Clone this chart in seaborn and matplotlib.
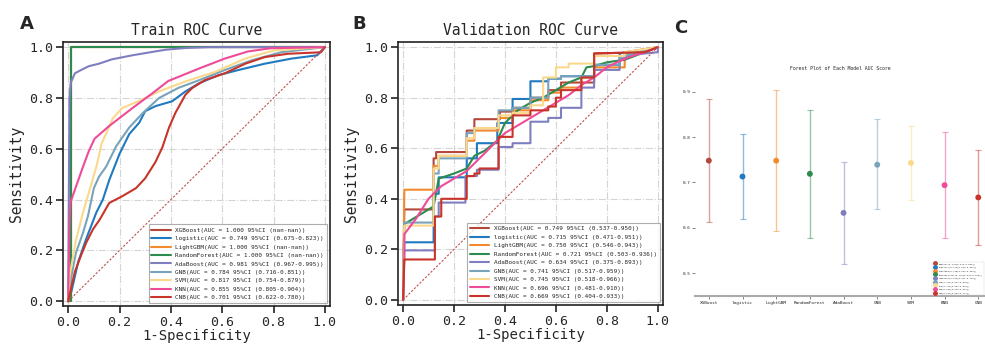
import numpy as np
import pandas as pd
import seaborn as sns
import matplotlib.pyplot as plt

models = ['XGBoost', 'logistic', 'LightGBM', 'RandomForest', 'AdaBoost', 'GNB', 'SVM', 'KNN', 'CNB']
colors = ['#b5473a', '#1f7ac0', '#f28a2e', '#2e8b4e', '#7f7fc0', '#78a3ba', '#fbd98c', '#ee4b98', '#c9342a']

# legend text for the two ROC panels
train_auc = ['1.000', '0.749', '1.000', '1.000', '0.981', '0.784', '0.817', '0.855', '0.701']
train_ci = ['nan-nan', '0.675-0.823', 'nan-nan', 'nan-nan', '0.967-0.995', '0.716-0.851', '0.754-0.879', '0.805-0.904', '0.622-0.780']
val_auc = ['0.749', '0.715', '0.750', '0.721', '0.634', '0.741', '0.745', '0.696', '0.669']
val_ci = ['0.537-0.950', '0.471-0.951', '0.546-0.943', '0.503-0.936', '0.375-0.893', '0.517-0.959', '0.518-0.966', '0.481-0.910', '0.404-0.933']

# forest plot (panel C)
forest_auc = [0.748, 0.713, 0.748, 0.719, 0.633, 0.739, 0.743, 0.694, 0.667]
forest_lo = [0.612, 0.619, 0.594, 0.578, 0.521, 0.641, 0.662, 0.578, 0.563]
forest_hi = [0.883, 0.807, 0.903, 0.860, 0.745, 0.839, 0.824, 0.812, 0.771]

# ---- train ROC curves (fpr, tpr) ----
tr_xgb = ([0, 0.01, 0.01, 1], [0, 0.0, 1, 1])
tr_logistic = ([0, 0.013, 0.039, 0.07, 0.11, 0.135, 0.16, 0.2, 0.238, 0.277, 0.30, 0.34, 0.405, 0.457, 0.51, 0.586, 0.663, 0.766, 0.87, 0.97, 1],
               [0, 0.04, 0.155, 0.245, 0.35, 0.40, 0.477, 0.58, 0.658, 0.703, 0.748, 0.768, 0.787, 0.826, 0.858, 0.89, 0.91, 0.935, 0.955, 0.968, 1])
tr_lgbm = ([0, 0.01, 0.01, 1], [0, 0.0, 1, 1])
tr_rf = ([0, 0.01, 0.01, 1], [0, 0.0, 1, 1])
tr_ada = ([0, 0.005, 0.01, 0.026, 0.05, 0.08, 0.12, 0.17, 0.25, 0.32, 0.38, 0.46, 0.55, 1],
          [0, 0.80, 0.86, 0.897, 0.91, 0.925, 0.935, 0.952, 0.968, 0.98, 0.99, 0.997, 1, 1])
tr_gnb = ([0, 0.013, 0.03, 0.058, 0.077, 0.10, 0.12, 0.148, 0.187, 0.238, 0.29, 0.354, 0.43, 0.51, 0.61, 0.714, 0.83, 1],
          [0, 0.10, 0.19, 0.27, 0.335, 0.445, 0.49, 0.53, 0.61, 0.684, 0.74, 0.80, 0.84, 0.87, 0.91, 0.948, 0.98, 1])
tr_svm = ([0, 0.006, 0.03, 0.058, 0.084, 0.11, 0.13, 0.148, 0.174, 0.21, 0.28, 0.354, 0.457, 0.573, 0.69, 0.80, 1],
          [0, 0.10, 0.24, 0.35, 0.44, 0.53, 0.62, 0.66, 0.72, 0.76, 0.79, 0.826, 0.865, 0.903, 0.955, 0.987, 1])
tr_knn = ([0, 0.005, 0.009, 0.03, 0.058, 0.08, 0.103, 0.16, 0.25, 0.33, 0.39, 0.51, 0.61, 0.70, 0.79, 1],
          [0, 0.30, 0.39, 0.45, 0.53, 0.59, 0.64, 0.69, 0.76, 0.82, 0.867, 0.916, 0.955, 0.983, 0.996, 1])
tr_cnb = ([0, 0.026, 0.05, 0.07, 0.097, 0.122, 0.16, 0.21, 0.264, 0.30, 0.34, 0.367, 0.393, 0.418, 0.457, 0.483, 0.534, 0.61, 0.69, 0.766, 0.856, 0.985, 1],
          [0, 0.116, 0.18, 0.23, 0.284, 0.32, 0.387, 0.413, 0.445, 0.484, 0.548, 0.606, 0.684, 0.742, 0.813, 0.839, 0.871, 0.897, 0.935, 0.961, 0.974, 0.98, 1])

# ---- validation ROC curves (fpr, tpr) ----
va_xgb = ([0, 0.005, 0.12, 0.12, 0.13, 0.13, 0.25, 0.25, 0.28, 0.28, 0.38, 0.38, 0.43, 0.43, 0.5, 0.5, 0.57, 0.57, 0.62, 0.62, 0.75, 0.75, 0.95, 1],
          [0, 0.358, 0.358, 0.56, 0.56, 0.585, 0.585, 0.67, 0.67, 0.715, 0.715, 0.745, 0.745, 0.76, 0.76, 0.80, 0.80, 0.83, 0.83, 0.86, 0.86, 0.975, 0.98, 1])
va_logistic = ([0, 0.005, 0.12, 0.12, 0.14, 0.14, 0.25, 0.25, 0.29, 0.29, 0.37, 0.37, 0.43, 0.43, 0.5, 0.5, 0.57, 0.57, 0.62, 0.62, 0.75, 0.75, 0.85, 0.85, 1],
               [0, 0.228, 0.228, 0.42, 0.42, 0.485, 0.485, 0.56, 0.56, 0.62, 0.62, 0.70, 0.70, 0.795, 0.795, 0.865, 0.865, 0.875, 0.875, 0.885, 0.885, 0.93, 0.93, 0.975, 1])
va_lgbm = ([0, 0.005, 0.12, 0.12, 0.14, 0.14, 0.25, 0.25, 0.28, 0.28, 0.375, 0.375, 0.43, 0.43, 0.5, 0.5, 0.57, 0.57, 0.62, 0.62, 0.7, 0.7, 0.75, 0.75, 0.87, 0.87, 1],
           [0, 0.436, 0.436, 0.53, 0.53, 0.57, 0.57, 0.63, 0.63, 0.67, 0.67, 0.72, 0.72, 0.75, 0.75, 0.79, 0.79, 0.82, 0.82, 0.84, 0.84, 0.88, 0.88, 0.92, 0.92, 0.98, 1])
va_rf = ([0, 0.005, 0.12, 0.14, 0.2, 0.25, 0.28, 0.32, 0.37, 0.4, 0.45, 0.5, 0.55, 0.6, 0.65, 0.7, 0.72, 0.75, 0.8, 0.87, 1],
         [0, 0.30, 0.37, 0.48, 0.50, 0.52, 0.57, 0.59, 0.63, 0.70, 0.75, 0.78, 0.80, 0.83, 0.86, 0.88, 0.92, 0.925, 0.94, 0.95, 1])
va_ada = ([0, 0.005, 0.125, 0.125, 0.14, 0.14, 0.245, 0.245, 0.29, 0.29, 0.375, 0.375, 0.43, 0.43, 0.5, 0.5, 0.57, 0.57, 0.62, 0.62, 0.7, 0.7, 0.75, 0.75, 0.85, 0.85, 0.9, 1, 1],
          [0, 0.196, 0.196, 0.33, 0.33, 0.385, 0.385, 0.49, 0.49, 0.515, 0.515, 0.605, 0.605, 0.62, 0.62, 0.705, 0.705, 0.72, 0.72, 0.76, 0.76, 0.84, 0.84, 0.91, 0.91, 0.95, 0.97, 0.98, 1])
va_gnb = ([0, 0.005, 0.12, 0.12, 0.14, 0.14, 0.25, 0.25, 0.28, 0.28, 0.375, 0.375, 0.43, 0.43, 0.5, 0.5, 0.57, 0.57, 0.62, 0.62, 0.75, 0.75, 0.85, 0.85, 1],
          [0, 0.306, 0.306, 0.50, 0.50, 0.56, 0.56, 0.66, 0.66, 0.68, 0.68, 0.75, 0.75, 0.76, 0.76, 0.80, 0.80, 0.875, 0.875, 0.885, 0.885, 0.93, 0.93, 0.96, 1])
va_svm = ([0, 0.005, 0.12, 0.12, 0.14, 0.14, 0.25, 0.25, 0.28, 0.28, 0.375, 0.375, 0.43, 0.43, 0.5, 0.5, 0.55, 0.55, 0.6, 0.6, 0.65, 0.65, 0.75, 0.75, 0.87, 0.87, 1],
          [0, 0.294, 0.294, 0.52, 0.52, 0.57, 0.57, 0.64, 0.64, 0.68, 0.68, 0.73, 0.73, 0.74, 0.74, 0.77, 0.77, 0.88, 0.88, 0.92, 0.92, 0.935, 0.935, 0.965, 0.965, 0.98, 1])
va_knn = ([0, 0.005, 0.005, 0.05, 0.1, 0.15, 0.2, 0.25, 0.3, 0.35, 0.4, 0.45, 0.5, 0.55, 0.6, 0.65, 0.7, 0.75, 0.8, 0.85, 0.9, 0.95, 1],
          [0, 0.16, 0.26, 0.32, 0.40, 0.45, 0.48, 0.51, 0.56, 0.61, 0.66, 0.69, 0.72, 0.75, 0.78, 0.81, 0.85, 0.88, 0.92, 0.945, 0.965, 0.98, 1])
va_cnb = ([0, 0.005, 0.125, 0.125, 0.15, 0.15, 0.25, 0.25, 0.28, 0.28, 0.3, 0.3, 0.375, 0.375, 0.43, 0.43, 0.5, 0.5, 0.57, 0.57, 0.6, 0.6, 0.62, 0.62, 0.7, 0.7, 0.75, 0.75, 0.95, 1],
          [0, 0.16, 0.16, 0.33, 0.33, 0.40, 0.40, 0.49, 0.49, 0.50, 0.50, 0.52, 0.52, 0.645, 0.645, 0.73, 0.73, 0.75, 0.75, 0.765, 0.765, 0.80, 0.80, 0.83, 0.83, 0.88, 0.88, 0.975, 0.98, 1])

train_curves = [tr_xgb, tr_logistic, tr_lgbm, tr_rf, tr_ada, tr_gnb, tr_svm, tr_knn, tr_cnb]
val_curves = [va_xgb, va_logistic, va_lgbm, va_rf, va_ada, va_gnb, va_svm, va_knn, va_cnb]

sns.set_style('whitegrid')
plt.rcParams['font.family'] = ['DejaVu Sans Mono', 'DejaVu Sans']

fig = plt.figure(figsize=(9.85, 3.45), dpi=100)
ax_a = fig.add_axes([0.064, 0.112, 0.271, 0.766])
ax_b = fig.add_axes([0.404, 0.116, 0.269, 0.762])
ax_c = fig.add_axes([0.7056, 0.142, 0.2944, 0.632])


def roc_panel(ax, curves, aucs, cis, title):
    for name, col, (fpr, tpr), auc, ci in zip(models, colors, curves, aucs, cis):
        sns.lineplot(x=fpr, y=tpr, ax=ax, color=col, linewidth=1.5, sort=False, estimator=None,
                     label=f"{name}(AUC = {auc} 95%CI ({ci}))")
    ax.plot([0, 1], [0, 1], color='#c0504d', linestyle='--', linewidth=0.8, dashes=(2, 1.5))
    ax.set_xlim(-0.02, 1.02)
    ax.set_ylim(-0.02, 1.02)
    ax.set_xticks(np.arange(0, 1.01, 0.2))
    ax.set_yticks(np.arange(0, 1.01, 0.2))
    ax.xaxis.set_major_formatter(plt.FuncFormatter(lambda v, p: f"{v:.1f}"))
    ax.yaxis.set_major_formatter(plt.FuncFormatter(lambda v, p: f"{v:.1f}"))
    ax.grid(True, color='#d4d4d4', linestyle='-.', linewidth=0.8)
    for s in ax.spines.values():
        s.set_color('#222222')
        s.set_linewidth(1.2)
    ax.tick_params(axis='both', which='major', direction='out', length=5, width=1.2,
                   color='#222222', labelsize=9.5, bottom=True, left=True, pad=2)
    ax.set_xlabel('1-Specificity', fontsize=10, labelpad=0)
    ax.set_ylabel('Sensitivity', fontsize=10.5)
    ax.set_title(title, fontsize=10.5, pad=5)
    leg = ax.legend(loc='lower right', fontsize=4.3, frameon=True, handlelength=3.2,
                    borderpad=0.5, labelspacing=0.55, fancybox=False)
    leg.get_frame().set_edgecolor('#999999')
    leg.get_frame().set_linewidth(0.8)


roc_panel(ax_a, train_curves, train_auc, train_ci, 'Train ROC Curve')
roc_panel(ax_b, val_curves, val_auc, val_ci, 'Validation ROC Curve')

# ---- panel C: forest plot ----
forest = pd.DataFrame({'model': models, 'auc': forest_auc, 'lo': forest_lo, 'hi': forest_hi})
pos = np.arange(len(models))
for i, row in forest.iterrows():
    ax_c.errorbar(pos[i], row['auc'], yerr=[[row['auc'] - row['lo']], [row['hi'] - row['auc']]],
                  fmt='none', ecolor=colors[i], alpha=0.5, elinewidth=1.0, capsize=2, capthick=0.8)
sns.scatterplot(data=forest, x=pos, y='auc', hue='model', palette=colors, ax=ax_c, s=18,
                edgecolor='none', zorder=3, legend=False)
handles = [plt.Line2D([], [], marker='o', color=c, linestyle='-', linewidth=0.6, markersize=2.5)
           for c in colors]
labels = [f"{m}({a:.3f}[{l:.3f}-{h:.3f}])" for m, a, l, h in zip(models, forest_auc, forest_lo, forest_hi)]
ax_c.legend(handles, labels, loc='lower right', fontsize=1.6, frameon=True, fancybox=False,
            handlelength=2, labelspacing=0.7, borderpad=0.4).get_frame().set_linewidth(0.3)
ax_c.set_xlim(-0.41, 8.2)
ax_c.set_ylim(0.45, 0.93)
ax_c.set_xticks(pos)
ax_c.set_xticklabels(models)
ax_c.set_yticks([0.5, 0.6, 0.7, 0.8, 0.9])
ax_c.grid(False)
ax_c.set_facecolor('none')
for side in ['top', 'right', 'left']:
    ax_c.spines[side].set_visible(False)
ax_c.spines['bottom'].set_color('#aaaaaa')
ax_c.spines['bottom'].set_linewidth(1.5)
ax_c.tick_params(axis='both', labelsize=3.2, length=2, width=0.5, color='#555555', pad=1.5,
                 bottom=True, left=True)
ax_c.set_xlabel('')
ax_c.set_ylabel('')
ax_c.set_title('Forest Plot of Each Model AUC Score', fontsize=3.5, pad=6)

for lab, x, y in [('A', 0.020, 0.915), ('B', 0.358, 0.915), ('C', 0.684, 0.905)]:
    fig.text(x, y, lab, fontsize=13, fontweight='bold', family='DejaVu Sans')

fig.savefig('out.png', dpi=100)
